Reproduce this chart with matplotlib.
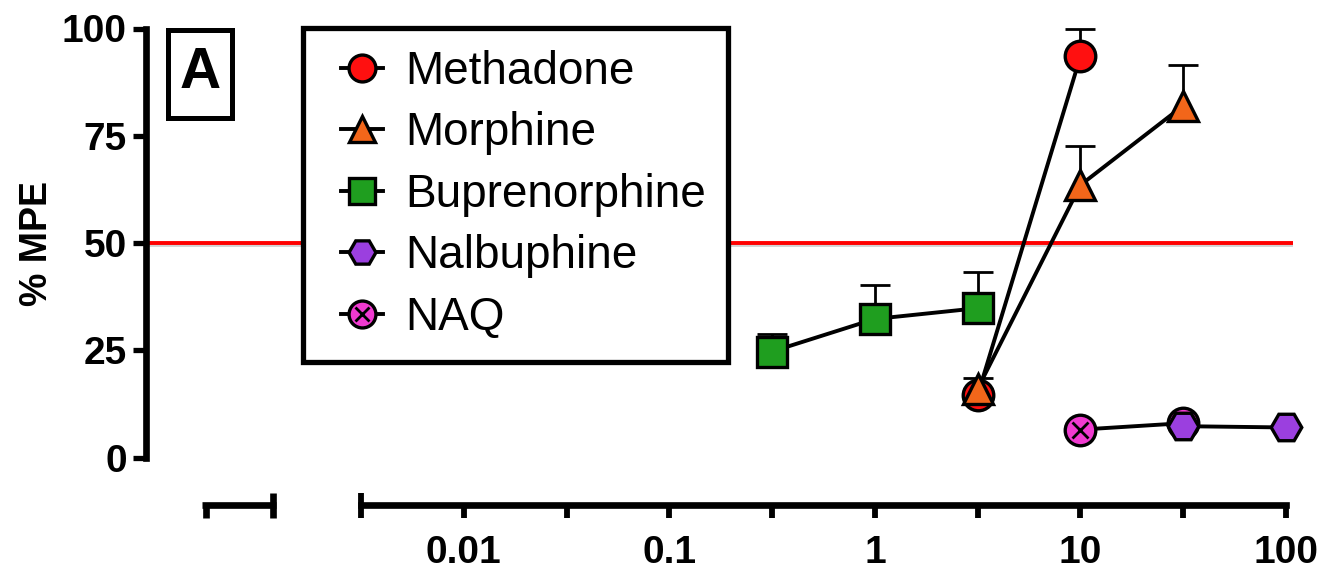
import matplotlib
matplotlib.use('Agg')
import matplotlib.pyplot as plt
import numpy as np
from matplotlib.lines import Line2D
from matplotlib.patches import Rectangle
from matplotlib.legend_handler import HandlerTuple, HandlerLine2D
import matplotlib.patheffects as pe

plt.rcParams['font.family'] = ['Liberation Sans', 'DejaVu Sans']

# ---------------- data ----------------
methadone_x = [3.16, 10]
methadone_y = [14.5, 93.5]
methadone_err = [1.5, 6.5]

morphine_x = [3.16, 10, 31.6]
morphine_y = [16.0, 63.5, 82.0]
morphine_err = [2.5, 9.0, 9.5]

bup_x = [0.316, 1, 3.16]
bup_y = [24.7, 32.3, 34.8]
bup_err = [4.0, 8.0, 8.5]

naq_x = [10, 31.6]
naq_y = [6.5, 8.0]

nalb_x = [31.6, 100]
nalb_y = [7.3, 7.0]

ytick_vals = [0, 25, 50, 75, 100]
xtick_vals = [10**-2.5, 0.01, 10**-1.5, 0.1, 10**-0.5, 1, 10**0.5, 10, 10**1.5, 100]
xtick_labels = ['', '0.01', '', '0.1', '', '1', '', '10', '', '100']
series_labels = ['Methadone', 'Morphine', 'Buprenorphine', 'Nalbuphine', 'NAQ']

# colours
c_meth = '#ff1010'
c_morph = '#f2661a'
c_bup = '#1f9e1f'
c_nalb = '#9b3fdf'
c_naq = '#f03ad0'

# ---------------- layout ----------------
W, H = 1325, 577
fig = plt.figure(figsize=(W / 100, H / 100), dpi=100)
fig.patch.set_facecolor('white')


def fx(px):
    return px / W


def fy(py):
    return 1 - py / H


AX_L, AX_R, AX_B, AX_T = 146, 1293, 457.5, 28.5
ax = fig.add_axes([fx(AX_L), fy(AX_B), fx(AX_R) - fx(AX_L), fy(AX_T) - fy(AX_B)])
ax.set_xscale('log')
decade = (1286 - 361) / 4.5
xmin = 10 ** (-2.5 - (361 - AX_L) / decade)
xmax = 10 ** (2 + (AX_R - 1286) / decade)
ax.set_xlim(xmin, xmax)
ax.set_ylim(0, 100)

for s in ['top', 'right']:
    ax.spines[s].set_visible(False)
ax.spines['left'].set_linewidth(4.8)
ax.spines['bottom'].set_linewidth(4.8)
ax.spines['bottom'].set_position(('outward', (505 - AX_B) * 0.72))
ax.spines['bottom'].set_bounds(10 ** -2.5, 100)

ax.set_yticks(ytick_vals)
ax.set_yticklabels([str(v) for v in ytick_vals], fontsize=28, fontweight='bold')
ax.tick_params(axis='y', length=9.7, width=3.8, pad=4, direction='out')

ax.set_xticks(xtick_vals)
ax.set_xticklabels(xtick_labels, fontsize=28, fontweight='bold')
ax.xaxis.set_minor_locator(matplotlib.ticker.NullLocator())
ax.tick_params(axis='x', length=9.4, width=4.2, pad=12, direction='out')

ax.set_ylabel('% MPE', fontsize=27, fontweight='bold', labelpad=5)

# 50% line
ax.axhline(50, color='#ff0000', lw=2.8, zorder=1,
           path_effects=[pe.SimpleLineShadow(offset=(0.5, -1.5), shadow_color='gray', alpha=0.35),
                         pe.Normal()])

ms = 22
mew = 2.4
lw = 2.8
cap = 21
elw = 2.0

# error bars (upper only)
for xs, ys, es, z in [(methadone_x, methadone_y, methadone_err, 3),
                      (morphine_x, morphine_y, morphine_err, 4),
                      (bup_x, bup_y, bup_err, 5)]:
    top = np.array(ys) + np.array(es)
    ax.vlines(xs, ys, top, color='black', lw=elw, zorder=z - 0.5, clip_on=False)
    ax.plot(xs, top, linestyle='none', marker='_', ms=cap, mew=elw, color='black',
            zorder=z - 0.5, clip_on=False)

h_meth, = ax.plot(methadone_x, methadone_y, '-', color='black', lw=lw, marker='o', ms=ms,
                  mfc=c_meth, mec='black', mew=mew, zorder=3, clip_on=False)
h_morph, = ax.plot(morphine_x, morphine_y, '-', color='black', lw=lw, marker='^', ms=ms,
                   mfc=c_morph, mec='black', mew=mew, zorder=4, clip_on=False)
h_bup, = ax.plot(bup_x, bup_y, '-', color='black', lw=lw, marker='s', ms=ms - 1,
                 mfc=c_bup, mec='black', mew=mew, zorder=5, clip_on=False)
h_naq, = ax.plot(naq_x, naq_y, '-', color='black', lw=lw, marker='o', ms=ms,
                 mfc=c_naq, mec='black', mew=mew, zorder=5, clip_on=False)
h_naqx, = ax.plot(naq_x, naq_y, linestyle='none', marker='x', ms=ms * 0.5, mec='black', mew=2.0,
                  zorder=5.1, clip_on=False)
h_nalb, = ax.plot(nalb_x, nalb_y, '-', color='black', lw=lw, marker='H', ms=ms,
                  mfc=c_nalb, mec='black', mew=mew, zorder=6, clip_on=False)


class ShortLineHandler(HandlerLine2D):
    """Legend handle with a short line segment centred on the marker."""

    def get_xdata(self, legend, xdescent, ydescent, width, height, fontsize):
        c = -xdescent + width * 0.5
        half = width * 0.28
        return np.array([c - half, c + half]), np.array([c])


line_handler = ShortLineHandler()
leg = ax.legend([h_meth, h_morph, h_bup, h_nalb, (h_naq, h_naqx)], series_labels,
                handler_map={Line2D: line_handler, tuple: HandlerTuple(ndivide=1, pad=0)},
                loc='upper left', bbox_to_anchor=(fx(303), fy(28)), bbox_transform=fig.transFigure,
                borderaxespad=0, fontsize=33, frameon=True, fancybox=False, framealpha=1,
                edgecolor='black', handlelength=1.62, handletextpad=0.13, labelspacing=0.38,
                borderpad=0.48, markerscale=0.88)
leg.get_frame().set_linewidth(3.8)
leg.set_zorder(10)

# left (vehicle) axis segment and break marks
k = dict(transform=fig.transFigure, color='black', solid_capstyle='butt')
fig.add_artist(Line2D([fx(202), fx(276)], [fy(505), fy(505)], lw=4.8, **k))
fig.add_artist(Line2D([fx(205.5), fx(205.5)], [fy(505), fy(518)], lw=4.8, **k))
fig.add_artist(Line2D([fx(272.5), fx(272.5)], [fy(493), fy(518)], lw=4.8, **k))
fig.add_artist(Line2D([fx(361), fx(361)], [fy(493), fy(505)], lw=4.2, **k))

# panel letter box
fig.add_artist(Rectangle((fx(168), fy(118)), fx(232) - fx(168), fy(30) - fy(118),
                         transform=fig.transFigure, fill=False, lw=3.6, ec='black'))
fig.text(fx(200), fy(73), 'A', fontsize=41, fontweight='bold', ha='center', va='center')

fig.savefig('out.png', dpi=100)
